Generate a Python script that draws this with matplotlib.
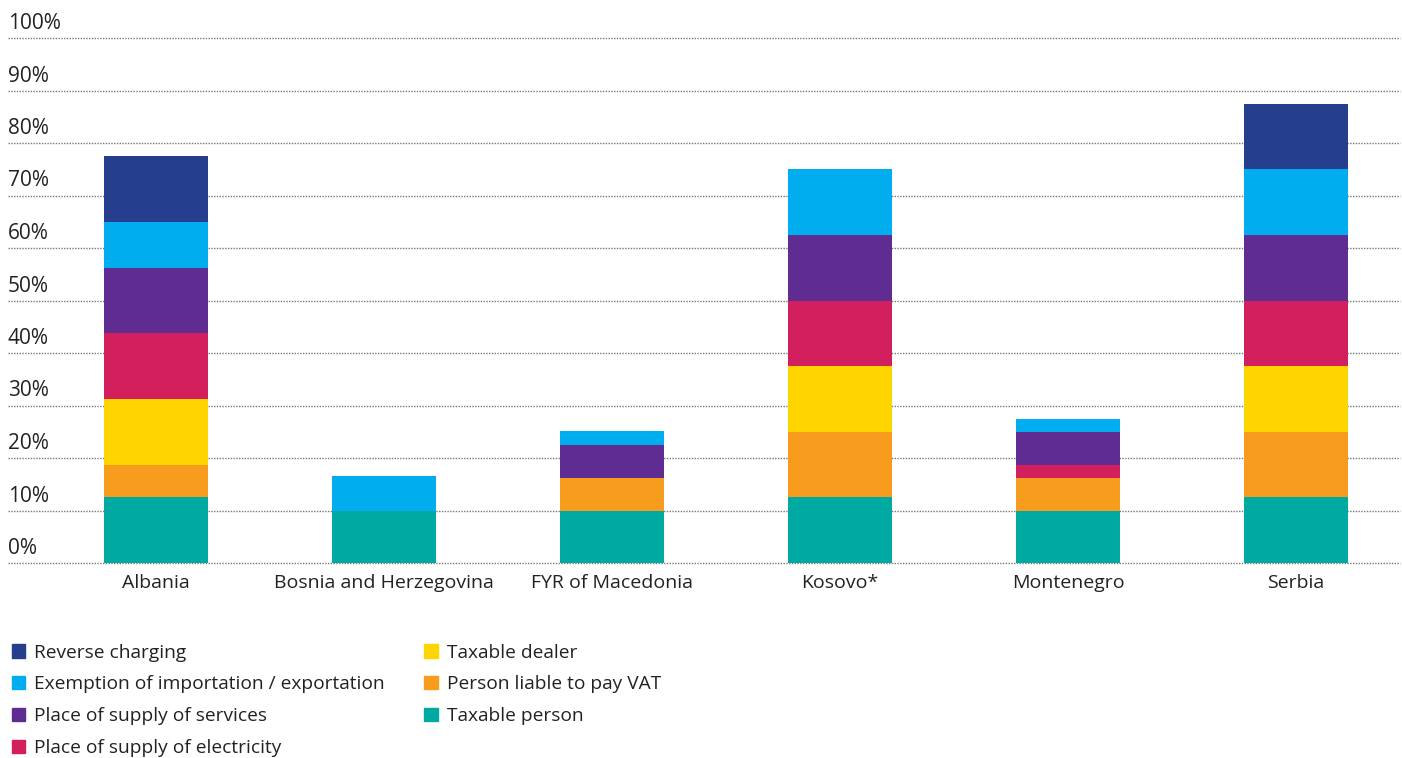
import numpy as np
import matplotlib.pyplot as plt
import matplotlib.transforms as mtransforms
from matplotlib.patches import Patch

plt.rcParams['font.family'] = ['Open Sans', 'DejaVu Sans']

countries = ['Albania', 'Bosnia and Herzegovina', 'FYR of Macedonia', 'Kosovo*', 'Montenegro', 'Serbia']

# stacked from bottom to top
taxable_person = [12.5, 10, 10, 12.5, 10, 12.5]
person_liable = [6.25, 0, 6.25, 12.5, 6.25, 12.5]
taxable_dealer = [12.5, 0, 0, 12.5, 0, 12.5]
supply_electricity = [12.5, 0, 0, 12.5, 2.5, 12.5]
supply_services = [12.5, 0, 6.25, 12.5, 6.25, 12.5]
exemption = [8.75, 6.5, 2.6, 12.5, 2.5, 12.5]
reverse_charging = [12.5, 0, 0, 0, 0, 12.5]

series = [
    ('Taxable person', taxable_person, '#00a9a2'),
    ('Person liable to pay VAT', person_liable, '#f89c1e'),
    ('Taxable dealer', taxable_dealer, '#ffd500'),
    ('Place of supply of electricity', supply_electricity, '#d31f5e'),
    ('Place of supply of services', supply_services, '#5f2d91'),
    ('Exemption of importation / exportation', exemption, '#00adef'),
    ('Reverse charging', reverse_charging, '#253f8e'),
]

fig = plt.figure(figsize=(14.02, 7.58), dpi=100)
ax = fig.add_axes([8 / 1402, 195 / 758, 1392 / 1402, 525 / 758])

x = np.arange(len(countries))
bottom = np.zeros(len(countries))
handles = {}
for name, vals, col in series:
    vals = np.array(vals, dtype=float)
    ax.bar(x, vals, bottom=bottom, width=0.456, color=col, zorder=3)
    bottom += vals
    handles[name] = Patch(color=col, label=name)

ax.set_xlim(-0.649, 5.456)
ax.set_ylim(0, 100)

# dotted gridlines with labels sitting above them
trans = mtransforms.blended_transform_factory(ax.transAxes, ax.transData)
label_trans = mtransforms.offset_copy(trans, fig=fig, x=0, y=4, units='dots')
for v in range(0, 101, 10):
    ax.axhline(v, color='#777777', lw=1, ls=(0, (1, 1)), zorder=1, clip_on=False)
    ax.text(0, v, f'{v}%', transform=label_trans, ha='left', va='bottom',
            fontsize=15, color='#222222')

for s in ax.spines.values():
    s.set_visible(False)
ax.set_yticks([])
ax.set_xticks(x)
ax.set_xticklabels(countries, fontsize=14, color='#222222')
ax.tick_params(axis='x', length=0, pad=8)

order = ['Reverse charging', 'Exemption of importation / exportation',
         'Place of supply of services', 'Place of supply of electricity',
         'Taxable dealer', 'Person liable to pay VAT', 'Taxable person']
fig.legend([handles[n] for n in order], order, ncol=2, frameon=False,
           loc='upper left', bbox_to_anchor=(0.0, 0.166),
           fontsize=13.8, handlelength=0.7, handleheight=0.7,
           handletextpad=0.5, columnspacing=2.05, labelspacing=0.72,
           borderaxespad=0.2, labelcolor='#222222')

fig.savefig('out.png', dpi=100)
